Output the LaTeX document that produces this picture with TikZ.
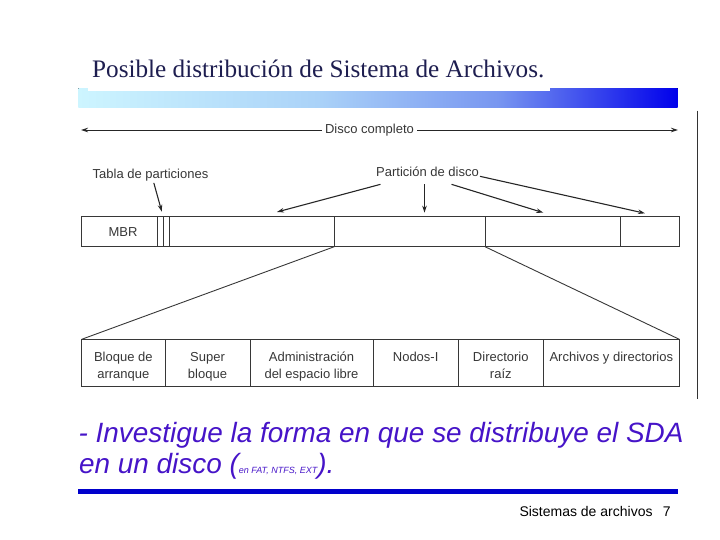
\documentclass[tikz,border=0pt]{standalone}
\usepackage{fontspec}
\setmainfont{Liberation Sans}
\newfontfamily\titlefont{Liberation Serif}
\usetikzlibrary{arrows.meta,positioning}
\definecolor{titlecol}{RGB}{30,30,80}
\definecolor{lblcol}{RGB}{55,55,55}
\definecolor{textcol}{RGB}{70,20,200}
\definecolor{linecol}{RGB}{0,0,204}
\definecolor{barlight}{RGB}{205,245,255}
\definecolor{barmid}{RGB}{170,210,248}
\definecolor{barmid2}{RGB}{120,150,240}
\definecolor{bardark}{RGB}{0,0,235}
\pgfdeclarehorizontalshading{titlebar}{100bp}{color(0bp)=(barlight); color(25bp)=(barlight); color(45bp)=(barmid); color(60bp)=(barmid2); color(75bp)=(bardark); color(100bp)=(bardark)}
\newcommand{\cellstrut}{\rule{0pt}{12pt}}
\begin{document}
\begin{tikzpicture}[x=1pt, y=-1pt,
	cell/.style={draw=lblcol, line width=0.8pt, text=lblcol, minimum height=30pt, inner sep=0pt, outer sep=0pt},
	lbl/.style={font=\fontsize{13}{16.7}\selectfont, text=lblcol, inner sep=1pt},
	arr/.style={-{Stealth[length=7pt,width=4.5pt]}, line width=1.1pt, draw=black!85}]
				\useasboundingbox (0,0) rectangle (720,540);
				
				% title and bar
				\fill[shading=titlebar] (78.3,88.3) rectangle (677.7,107.3);
				\fill[white] (88.3,58) rectangle (550,90.7);
				\node[anchor=base west, inner sep=0pt, font=\titlefont\fontsize{25.2}{30}\selectfont, text=titlecol] (title) at (92,78) {Posible distribución de Sistema de Archivos.};
				\draw[line width=1pt, black!80] (697.7,110.7) -- (697.7,399.3);
				
				% whole disk
				\node[lbl, fill=white, inner sep=3pt] (disco) at (369.5,130) {Disco completo};
				\coordinate (discoL) at (81,130);
				\coordinate (discoR) at (678,130);
				\draw[arr, line width=0.9pt] (disco) -- (discoL);
				\draw[arr, line width=0.9pt] (disco) -- (discoR);
				
				% disk bar
				\node[cell, minimum width=76.2pt, anchor=north west, font=\fontsize{13}{16}\selectfont] (mbr) at (81.5,216.7) {\hspace*{7pt}MBR};
				\node[cell, minimum width=5.6pt, right=0pt of mbr] (tab1) {};
				\node[cell, minimum width=5.7pt, right=0pt of tab1] (tab2) {};
				\node[cell, minimum width=165.3pt, right=0pt of tab2] (p1) {};
				\node[cell, minimum width=150.7pt, right=0pt of p1] (p2) {};
				\node[cell, minimum width=135.7pt, right=0pt of p2] (p3) {};
				\node[cell, minimum width=58.6pt, right=0pt of p3] (p4) {};
				\draw[line width=1.4pt, lblcol] (p1.north east) -- (p1.south east);
				
				% labels over the bar
				\node[lbl, anchor=base west] (tabla) at (91.5,179) {Tabla de particiones};
				\node[lbl, anchor=base west] (part) at (375,177) {Partición de disco};
				\draw[arr] ([xshift=3.3pt]tabla.south) -- ([xshift=-1.5pt,yshift=5pt]tab1.north east);
				\draw[arr] ([xshift=-47pt,yshift=-6pt]part.south) -- ([xshift=25.3pt,yshift=4.7pt]p1.north);
				\draw[arr] ([xshift=-3pt,yshift=-6pt]part.south) -- ([xshift=-3pt,yshift=4pt]part.south |- p2.north);
				\draw[arr] ([xshift=24pt,yshift=-6pt]part.south) -- ([xshift=-9.5pt,yshift=4pt]p3.north);
				\draw[arr] ([yshift=2pt]part.south east) -- ([xshift=-5pt,yshift=3.4pt]p4.north);
				
				% file system bar
				\node[cell, minimum height=47.4pt, minimum width=83.3pt, anchor=north west] (c1) at (81.7,339.3) {};
				\node[cell, minimum height=47.4pt, minimum width=85pt, right=0pt of c1] (c2) {};
				\node[cell, minimum height=47.4pt, minimum width=123pt, right=0pt of c2] (c3) {};
				\node[cell, minimum height=47.4pt, minimum width=85.3pt, right=0pt of c3] (c4) {};
				\node[cell, minimum height=47.4pt, minimum width=85pt, right=0pt of c4] (c5) {};
				\node[cell, minimum height=47.4pt, minimum width=136pt, right=0pt of c5] (c6) {};
				\draw[line width=0.9pt, lblcol] (p2.south west) -- (c1.north west);
				\draw[line width=0.9pt, lblcol] (p2.south east) -- (c6.north east);
				
				\node[lbl, align=center, anchor=north, yshift=-9pt] (t1) at (c1.north) {\cellstrut Bloque de\\arranque};
				\node[lbl, align=center, anchor=north, yshift=-9pt] (t2) at (c2.north) {\cellstrut Super\\bloque};
				\node[lbl, align=center, anchor=north, yshift=-9pt] (t3) at (c3.north) {\cellstrut Administración\\del espacio libre};
				\node[lbl, align=center, anchor=north, yshift=-9pt] (t4) at (c4.north) {\cellstrut Nodos-I};
				\node[lbl, align=center, anchor=north, yshift=-9pt] (t5) at (c5.north) {\cellstrut Directorio\\raíz};
				\node[lbl, align=center, anchor=north, yshift=-9pt] (t6) at (c6.north) {\cellstrut Archivos y directorios};
				
				% task text
				\node[anchor=base west, inner sep=0pt, font=\itshape\fontsize{27.9}{31}\selectfont, text=textcol] (task1) at (78.5,442.3) {- Investigue la forma en que se distribuye el SDA};
				\node[anchor=base west, inner sep=0pt, font=\itshape\fontsize{27.9}{31}\selectfont, text=textcol] (task2) at (79,473.3) {en un disco ({\fontsize{9}{11}\selectfont en FAT, NTFS, EXT}).};
				\draw[linecol, line width=4.3pt] (78.3,491.5) -- (678.3,491.5);
				
				% footer
				\node[anchor=base west, inner sep=0pt, font=\fontsize{14}{16}\selectfont] (foot) at (519.3,516) {Sistemas de archivos};
				\node[anchor=base west, inner sep=0pt, font=\fontsize{14}{16}\selectfont] (page) at (662.7,516) {7};
				
\end{tikzpicture}
\end{document}
